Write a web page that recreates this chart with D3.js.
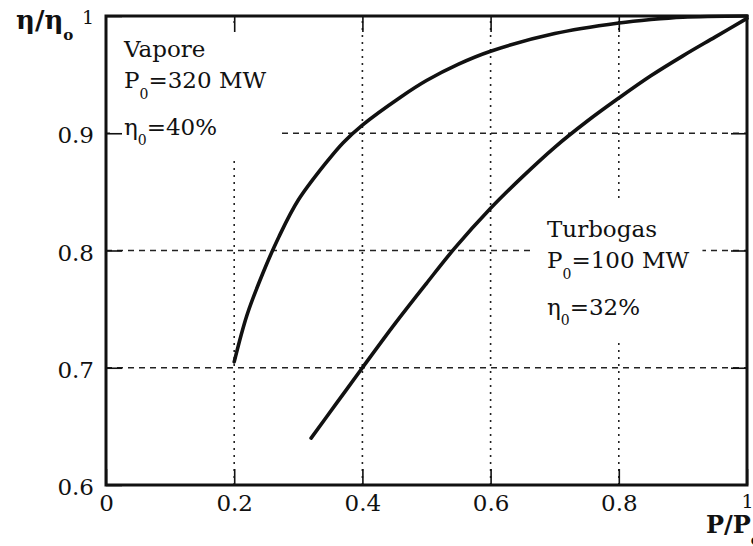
<!DOCTYPE html>
<html>
<head>
<meta charset="utf-8">
<script src="https://cdn.jsdelivr.net/npm/d3@7"></script>
<style>
  html, body { margin: 0; padding: 0; background: #fff; }
  svg { display: block; }
  text { font-family: "DejaVu Serif", "Liberation Serif", serif; fill: #111; }
</style>
</head>
<body>
<svg id="chart" width="753" height="546"></svg>
<script>
// ---- data ----
const xTicks = [0, 0.2, 0.4, 0.6, 0.8, 1];
const yTicks = [0.6, 0.7, 0.8, 0.9, 1];
const xGrid = [0.2, 0.4, 0.6, 0.8];
const yGrid = [0.7, 0.8, 0.9];

const vaporeLoad = [0.2, 0.22, 0.245, 0.27, 0.3, 0.345, 0.37, 0.4, 0.46, 0.5, 0.55, 0.6, 0.7, 0.8, 0.85, 0.9, 1.0];
const vaporeEff  = [0.705, 0.745, 0.781, 0.812, 0.843, 0.876, 0.892, 0.907, 0.931, 0.945, 0.959, 0.970, 0.985, 0.994, 0.997, 0.999, 1.0];

const turboLoad = [0.32, 0.36, 0.4, 0.45, 0.5, 0.544, 0.6, 0.65, 0.7, 0.75, 0.8, 0.85, 0.9, 0.95, 1.0];
const turboEff  = [0.640, 0.670, 0.700, 0.737, 0.772, 0.802, 0.836, 0.863, 0.888, 0.910, 0.930, 0.949, 0.966, 0.982, 0.998];

const vaporeLabel = ["Vapore", "320 MW", "40%"];
const turboLabel = ["Turbogas", "100 MW", "32%"];

// ---- layout ----
const svg = d3.select("#chart");
const x = d3.scaleLinear().domain([0, 1]).range([106, 747]);
const y = d3.scaleLinear().domain([0.6, 1]).range([485, 16]);
const fmt = d => d === 0 ? "0" : d === 1 ? "1" : d3.format(".1f")(d);

// gridlines
const grid = svg.append("g");
grid.selectAll("line.h").data(yGrid).join("line")
  .attr("x1", x(0)).attr("x2", x(1))
  .attr("y1", d => y(d)).attr("y2", d => y(d))
  .attr("stroke", "#222").attr("stroke-width", 1.4)
  .attr("stroke-dasharray", "6,5");
grid.selectAll("line.v").data(xGrid).join("line")
  .attr("x1", d => x(d)).attr("x2", d => x(d))
  .attr("y1", y(0.6)).attr("y2", y(1))
  .attr("stroke", "#222").attr("stroke-width", 1.6)
  .attr("stroke-dasharray", "2,5");

// annotation blocks (white background breaks the grid)
function block(lines, tx, ty) {
  const g = svg.append("g");
  const bg = g.append("rect").attr("fill", "#fff");
  const t = g.append("g").style("font-size", "23px");
  t.append("text").attr("x", tx).attr("y", ty).text(lines[0]);
  const p = t.append("text").attr("x", tx).attr("y", ty + 31);
  p.append("tspan").text("P");
  p.append("tspan").attr("dy", 11).style("font-size", "14px").text("0");
  p.append("tspan").attr("dy", -11).text("=" + lines[1]);
  const e = t.append("text").attr("x", tx).attr("y", ty + 78);
  e.append("tspan").text("η");
  e.append("tspan").attr("dy", 10).style("font-size", "14px").text("0");
  e.append("tspan").attr("dy", -10).text("=" + lines[2]);
  const b = t.node().getBBox();
  const pad = 13;
  bg.attr("x", b.x - pad).attr("y", b.y - pad)
    .attr("width", b.width + 2 * pad).attr("height", b.height + 2 * pad);
}
block(vaporeLabel, 124, 57);
block(turboLabel, 547, 237);

// axes (inward ticks on all four sides)
const tickLen = 16;
function styleAxis(g) {
  g.select(".domain").remove();
  g.selectAll(".tick line").attr("stroke", "#111").attr("stroke-width", 1.6);
  g.selectAll(".tick text").style("font-size", "23px")
    .style("font-family", "'DejaVu Serif', serif").attr("fill", "#111");
  g.selectAll(".tick text").filter(d => d === 1).style("font-size", "19px");
}
svg.append("g").attr("transform", `translate(0,${y(0.6)})`)
  .call(d3.axisBottom(x).tickValues(xTicks).tickFormat(fmt).tickSizeInner(-tickLen).tickSizeOuter(0).tickPadding(10))
  .call(styleAxis);
svg.append("g").attr("transform", `translate(${x(0)},0)`)
  .call(d3.axisLeft(y).tickValues(yTicks).tickFormat(fmt).tickSizeInner(-tickLen).tickSizeOuter(0).tickPadding(12))
  .call(styleAxis)
  .selectAll(".tick text").attr("dy", "0.42em");
svg.append("g").attr("transform", `translate(0,${y(1)})`)
  .call(d3.axisTop(x).tickValues(xGrid).tickFormat("").tickSizeInner(-tickLen).tickSizeOuter(0))
  .call(styleAxis);
svg.append("g").attr("transform", `translate(${x(1)},0)`)
  .call(d3.axisRight(y).tickValues(yGrid).tickFormat("").tickSizeInner(-tickLen).tickSizeOuter(0))
  .call(styleAxis);

// frame
svg.append("rect")
  .attr("x", x(0)).attr("y", y(1))
  .attr("width", x(1) - x(0)).attr("height", y(0.6) - y(1))
  .attr("fill", "none").attr("stroke", "#111").attr("stroke-width", 3);

// curves
const line = d3.line().x(d => x(d[0])).y(d => y(d[1])).curve(d3.curveCatmullRom.alpha(0.5));
svg.append("path").datum(d3.zip(vaporeLoad, vaporeEff))
  .attr("d", line).attr("fill", "none").attr("stroke", "#111")
  .attr("stroke-width", 3.6).attr("stroke-linecap", "round");
svg.append("path").datum(d3.zip(turboLoad, turboEff))
  .attr("d", line).attr("fill", "none").attr("stroke", "#111")
  .attr("stroke-width", 3.6).attr("stroke-linecap", "round");

// axis titles
const yt = svg.append("text").attr("x", 16).attr("y", 29)
  .style("font-size", "26px").style("font-weight", "bold");
yt.append("tspan").text("η/η");
yt.append("tspan").attr("dy", 11).style("font-size", "15px").text("o");

const xt = svg.append("text").attr("x", 706).attr("y", 533)
  .style("font-size", "24px").style("font-weight", "bold");
xt.append("tspan").text("P/P");
xt.append("tspan").attr("dy", 12).style("font-size", "15px").text("o");
</script>
</body>
</html>
